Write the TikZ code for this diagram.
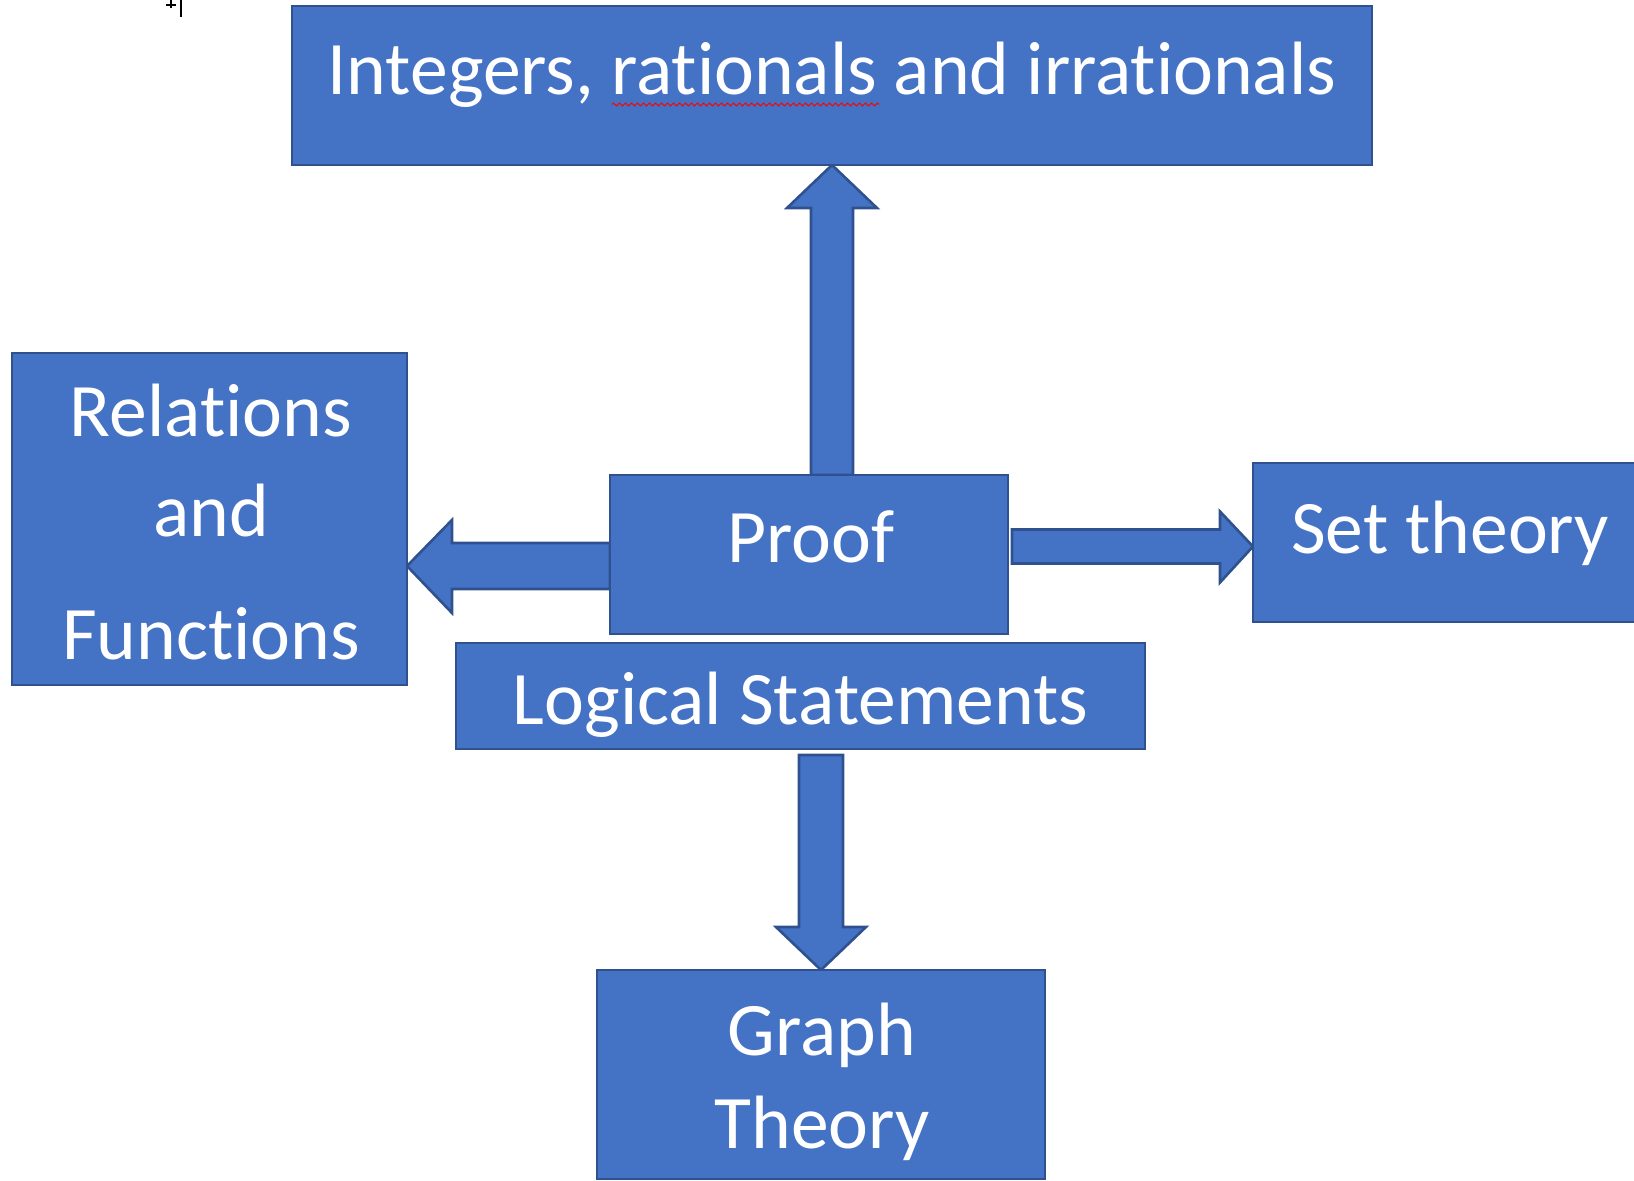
\documentclass[tikz,border=0pt]{standalone}
\usepackage{fontspec}
\setmainfont{Carlito}[Ligatures={NoCommon,NoContextual,NoRequired}, RawFeature={-liga,-clig,-calt,-dlig}]
\usetikzlibrary{fit,calc,backgrounds,decorations.pathmorphing}
\definecolor{boxblue}{HTML}{4472C4}
\definecolor{edgeblue}{HTML}{2F528F}

\begin{document}
\begin{tikzpicture}[x=0.5pt, y=-0.5pt,
		topic/.style={draw=edgeblue, fill=boxblue, line width=1.3pt, inner sep=0pt, outer sep=0pt},
		topic text/.style={text=white, font=\fontsize{37.8}{45}\selectfont, anchor=base, inner sep=0pt},
		fat arrow/.style={draw=edgeblue, fill=boxblue, line width=1.3pt, line join=miter},
	]
	\clip (0,0) rectangle (1634,1181);

	% boxes
	\node [topic, fit={(292,6) (1372,165)}] (ints) {};
	\node [topic, fit={(12,353) (407,685)}] (rel) {};
	\node [topic, fit={(610,475) (1008,634)}] (proof) {};
	\node [topic, fit={(1253,463) (1660,622)}] (set) {};
	\node [topic, fit={(456,643) (1145,749)}] (logic) {};
	\node [topic, fit={(597,970) (1045,1179)}] (graph) {};

	% labels
	\node [topic text] (intslabel) at (ints.south |- 0,95) {Integers, rationals and irrationals};
	\foreach \word/\y in {Relations/437, and/537, Functions/660}
		\node [topic text] (rel-\y) at (211,\y) {\word};
	\node [topic text] (prooflabel) at (811,563) {Proof};
	\node [topic text] (setlabel) at (1450,554) {Set theory};
	\node [topic text] (logiclabel) at (logic.south |- 0,725) {Logical Statements};
	\node [topic text] (graphlabel1) at (822,1055) {Graph};
	\node [topic text] (graphlabel2) at (822,1148) {Theory};

	% spell check mark and cursor
	\draw [red, line width=0.5pt, decorate, decoration={zigzag, segment length=3pt, amplitude=0.7pt}] (612,104.5) -- (879,104.5);
	\draw [line width=0.6pt] (181,0) -- (181,17) (166,5) -- (176,5) (171,0) -- (171,8);

	\begin{pgfonlayer}{background}
		% proof up to integers
		\draw [fat arrow] (ints.south) -- ++(45,43) -- ++(-24,0) -- (proof.north -| 853,0) -- ++(-42,0) -- ++(0,-267) -- ++(-24,0) -- cycle;
		% proof left to relations
		\draw [fat arrow] ($(rel.east)+(0,47)$) -- ++(45,-46) -- ++(0,23) -- (proof.west |- 0,543) -- ++(0,46) -- ++(-158,0) -- ++(0,24) -- cycle;
		% proof right to set theory
		\draw [fat arrow] ($(set.west)+(0,4)$) -- ++(-33,-35) -- ++(0,18) -- ++(-208,0) -- ++(0,34) -- ++(208,0) -- ++(0,19) -- cycle;
		% logical statements down to graph theory
		\draw [fat arrow] (graph.north) -- ++(-45,-43) -- ++(23,0) -- ++(0,-172) -- ++(44,0) -- ++(0,172) -- ++(23,0) -- cycle;
	\end{pgfonlayer}
\end{tikzpicture}
\end{document}
